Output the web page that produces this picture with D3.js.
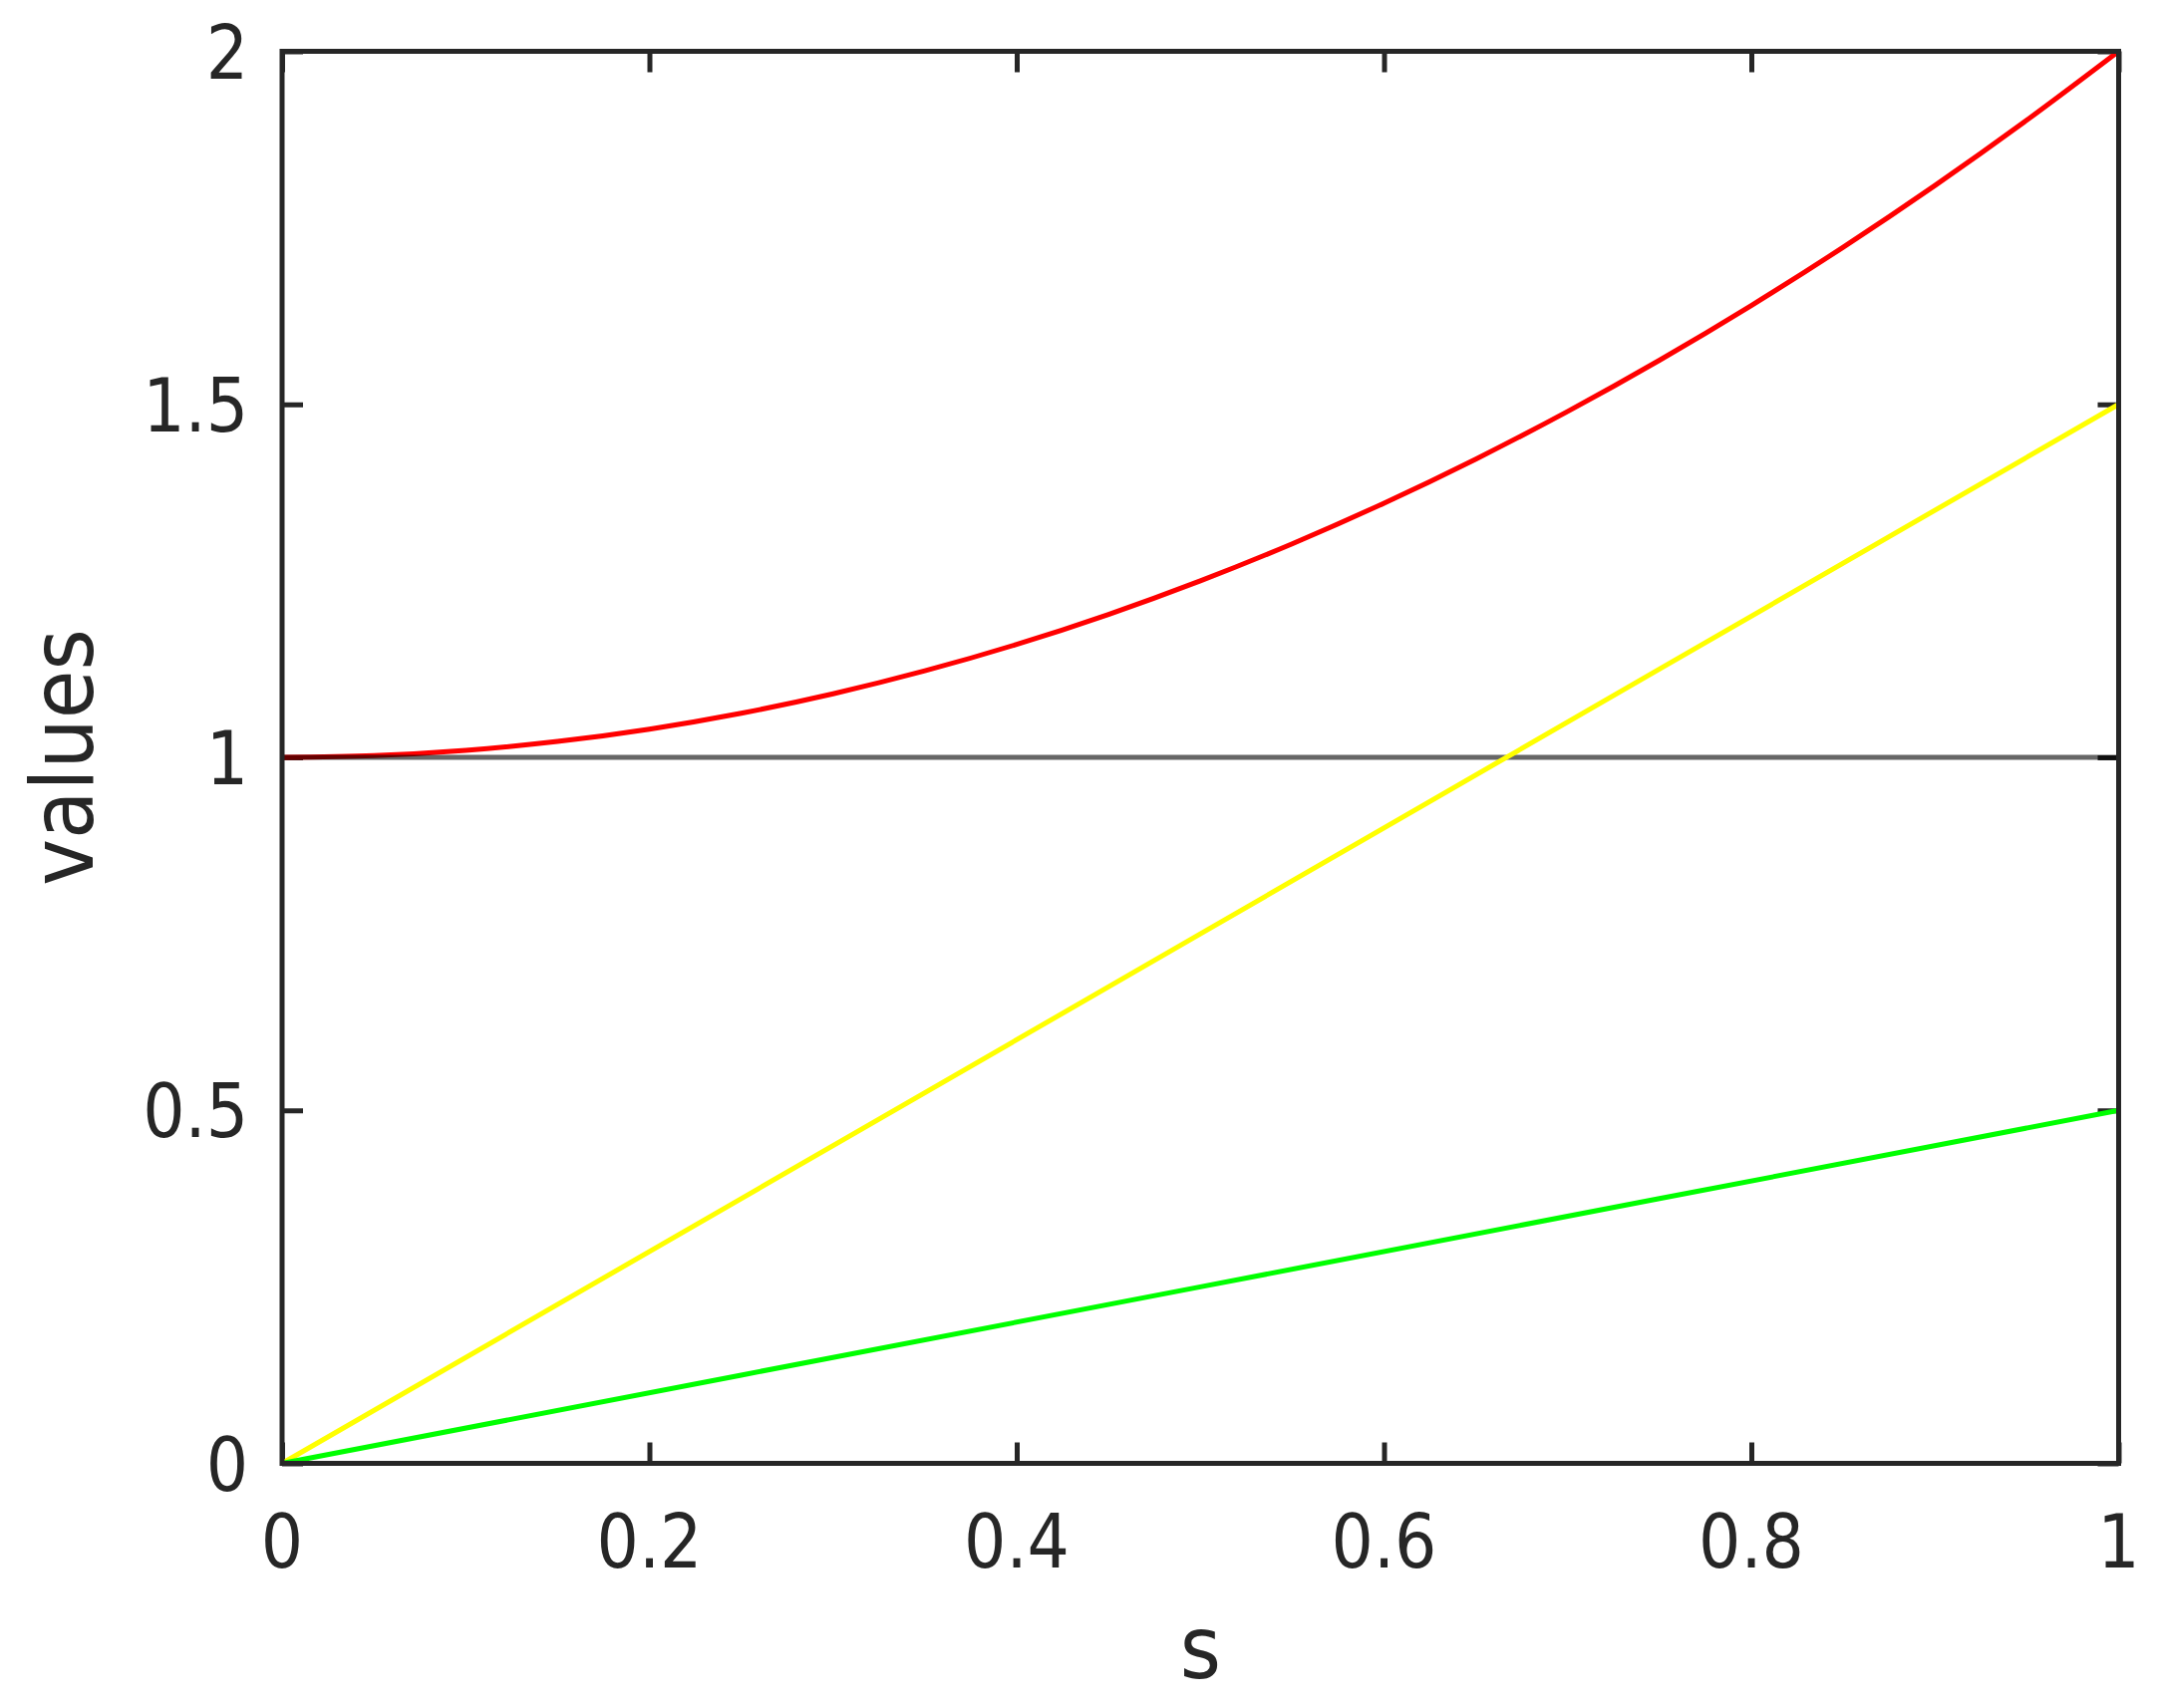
<!DOCTYPE html>
<html>
<head>
<meta charset="utf-8">
<script src="https://cdn.jsdelivr.net/npm/d3@7"></script>
<style>
  html, body { margin: 0; padding: 0; background: #fff; }
  svg { display: block; }
  text { font-family: "DejaVu Sans Condensed", "DejaVu Sans", sans-serif; font-stretch: condensed; fill: #262626; }
</style>
</head>
<body>
<script>
// ---- data ----
const sValues = [0, 0.05, 0.1, 0.15, 0.2, 0.25, 0.3, 0.35, 0.4, 0.45, 0.5,
                 0.55, 0.6, 0.65, 0.7, 0.75, 0.8, 0.85, 0.9, 0.95, 1];
const redValues = [1, 1.0025, 1.01, 1.0225, 1.04, 1.0625, 1.09, 1.1225, 1.16, 1.2025, 1.25,
                   1.3025, 1.36, 1.4225, 1.49, 1.5625, 1.64, 1.7225, 1.81, 1.9025, 2];
const lineS = [0, 0.5, 1];
const yellowValues = [0, 0.75, 1.5];
const greenValues = [0, 0.25, 0.5];
const grayValues = [1, 1, 1];
const xTicks = [0, 0.2, 0.4, 0.6, 0.8, 1];
const yTicks = [0, 0.5, 1, 1.5, 2];
const xTickLabels = ["0", "0.2", "0.4", "0.6", "0.8", "1"];
const yTickLabels = ["0", "0.5", "1", "1.5", "2"];
const xLabel = "s";
const yLabel = "values";

// ---- layout ----
const W = 2169, H = 1714;
const pLeft = 283, pRight = 2125.5, pTop = 51.5, pBottom = 1468.5;
const axisColor = "#262626";

const svg = d3.select("body").append("svg").attr("width", W).attr("height", H);

const x = d3.scaleLinear().domain([0, 1]).range([pLeft, pRight]);
const y = d3.scaleLinear().domain([0, 2]).range([pBottom, pTop]);

const tickLen = 21;
const tickFont = 74;

// inner ticks on all four sides
const gAxes = svg.append("g");
gAxes.append("g").attr("transform", `translate(0,${pBottom})`)
  .call(d3.axisBottom(x).tickValues(xTicks).tickSize(-tickLen).tickFormat(""))
  .call(g => g.select(".domain").remove());
gAxes.append("g").attr("transform", `translate(0,${pTop})`)
  .call(d3.axisTop(x).tickValues(xTicks).tickSize(-tickLen).tickFormat(""))
  .call(g => g.select(".domain").remove());
gAxes.append("g").attr("transform", `translate(${pLeft},0)`)
  .call(d3.axisLeft(y).tickValues(yTicks).tickSize(-tickLen).tickFormat(""))
  .call(g => g.select(".domain").remove());
gAxes.append("g").attr("transform", `translate(${pRight},0)`)
  .call(d3.axisRight(y).tickValues(yTicks).tickSize(-tickLen).tickFormat(""))
  .call(g => g.select(".domain").remove());
gAxes.selectAll(".tick line").attr("stroke", axisColor).attr("stroke-width", 5);

// data lines
const lineGen = (xs, ys) => d3.line().x((d, i) => x(xs[i])).y((d) => y(d)).curve(d3.curveMonotoneX)(ys);

svg.append("path").attr("d", lineGen(sValues, redValues))
  .attr("fill", "none").attr("stroke", "#ff0000").attr("stroke-width", 5);
svg.append("path").attr("d", lineGen(lineS, grayValues))
  .attr("fill", "none").attr("stroke", "#000").attr("stroke-opacity", 0.6).attr("stroke-width", 5);
svg.append("path").attr("d", lineGen(lineS, yellowValues))
  .attr("fill", "none").attr("stroke", "#ffff00").attr("stroke-width", 5);
svg.append("path").attr("d", lineGen(lineS, greenValues))
  .attr("fill", "none").attr("stroke", "#00ff00").attr("stroke-width", 5);

// box
svg.append("rect")
  .attr("x", pLeft).attr("y", pTop)
  .attr("width", pRight - pLeft).attr("height", pBottom - pTop)
  .attr("fill", "none").attr("stroke", axisColor).attr("stroke-width", 5);

// tick labels
svg.append("g").selectAll("text").data(xTicks).join("text")
  .attr("x", d => x(d)).attr("y", pBottom + 104.5)
  .attr("text-anchor", "middle").attr("font-size", tickFont)
  .text((d, i) => xTickLabels[i]);
svg.append("g").selectAll("text").data(yTicks).join("text")
  .attr("x", pLeft - 34).attr("y", d => y(d) + 27)
  .attr("text-anchor", "end").attr("font-size", tickFont)
  .text((d, i) => yTickLabels[i]);

// axis labels
svg.append("text")
  .attr("x", (pLeft + pRight) / 2).attr("y", 1684)
  .attr("text-anchor", "middle").attr("font-size", 88)
  .text(xLabel);
svg.append("text")
  .attr("transform", `translate(93,${(pTop + pBottom) / 2}) rotate(-90)`)
  .attr("text-anchor", "middle").attr("font-size", 88)
  .text(yLabel);
</script>
</body>
</html>
